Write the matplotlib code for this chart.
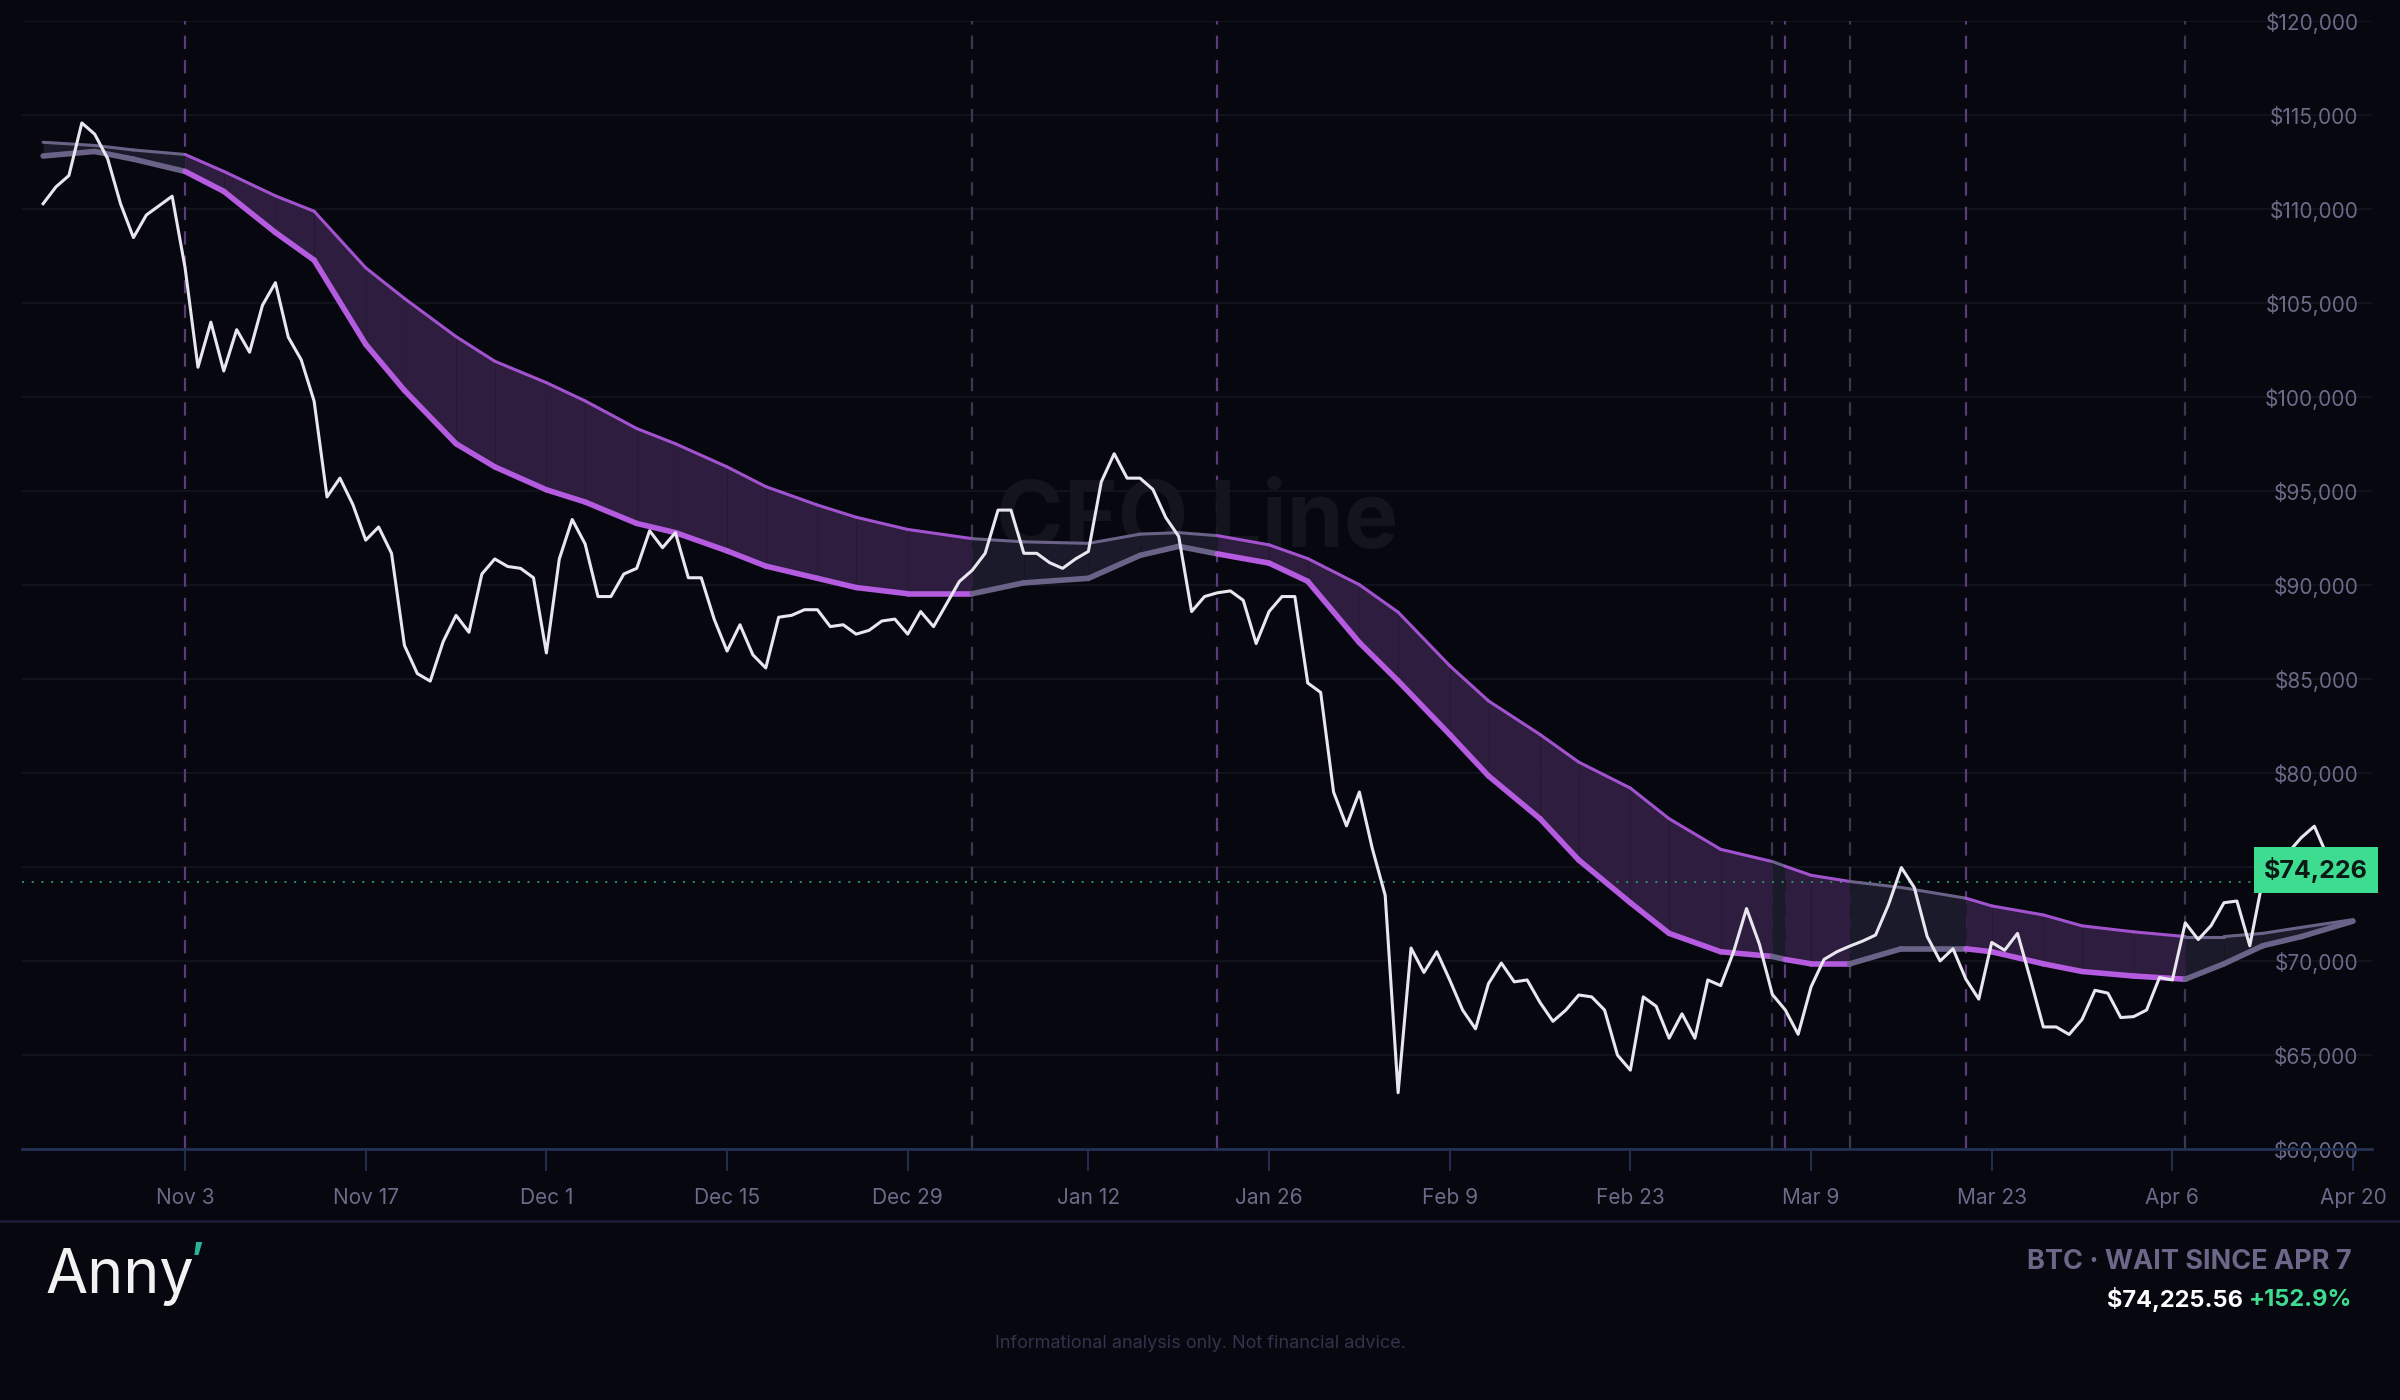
import pandas as pd
import numpy as np
import matplotlib
matplotlib.use("Agg")
import matplotlib.pyplot as plt
import matplotlib.dates as mdates

BG = "#06070f"
PURPLE = "#b45be0"
PURPLE_UP = "#a352cf"
GREY_LINE = "#6b6387"
FILL_PURPLE = "#2e1d3f"
FILL_GREY = "#1b1a2a"
TEXT_DIM = "#6c6a88"
GREEN = "#3ddc91"

# daily BTC close, Oct 23 -> Apr 20
price = [
    110300, 111200, 111800, 114600, 114000, 112700, 110300, 108500, 109700, 110200,
    110700, 106900, 101600, 104000, 101400, 103600, 102400, 104900, 106100, 103200,
    102000, 99800, 94700, 95700, 94300, 92400, 93100, 91700, 86800, 85300,
    84900, 87000, 88400, 87500, 90600, 91400, 91000, 90900, 90400, 86400,
    91400, 93500, 92200, 89400, 89400, 90600, 90900, 92900, 92000, 92800,
    90400, 90400, 88200, 86500, 87900, 86300, 85600, 88300, 88400, 88700,
    88700, 87800, 87900, 87400, 87600, 88100, 88200, 87400, 88600, 87800,
    89000, 90200, 90800, 91700, 94000, 94000, 91700, 91700, 91200, 90900,
    91400, 91800, 95500, 97000, 95700, 95700, 95100, 93600, 92600, 88600,
    89400, 89600, 89700, 89200, 86900, 88600, 89400, 89400, 84800, 84300,
    79000, 77200, 79000, 76000, 73500, 63000, 70700, 69400, 70500, 69000,
    67400, 66400, 68800, 69900, 68900, 69000, 67800, 66800, 67400, 68200,
    68100, 67400, 65000, 64200, 68100, 67600, 65900, 67200, 65900, 69000,
    68700, 70500, 72800, 70900, 68230, 67410, 66110, 68630, 70090, 70500,
    70800, 71070, 71390, 73000, 74980, 73920, 71310, 70010, 70660, 69040,
    67980, 71000, 70580, 71480, 69040, 66500, 66500, 66100, 66900, 68450,
    68300, 67000, 67050, 67400, 69130, 69000, 72040, 71150, 71890, 73110,
    73200, 70820, 74330, 75110, 75800, 76580, 77180, 75600, 73920, 74226,
]
price_dates = pd.date_range("2025-10-23", periods=len(price), freq="D")

band_dates = pd.to_datetime([
    "2025-10-23", "2025-10-27", "2025-10-30", "2025-11-03", "2025-11-06", "2025-11-10",
    "2025-11-13", "2025-11-17", "2025-11-20", "2025-11-24", "2025-11-27", "2025-12-01",
    "2025-12-04", "2025-12-08", "2025-12-11", "2025-12-15", "2025-12-18", "2025-12-22",
    "2025-12-25", "2025-12-29", "2026-01-03", "2026-01-07", "2026-01-12", "2026-01-16",
    "2026-01-19", "2026-01-22", "2026-01-26", "2026-01-29", "2026-02-02", "2026-02-05",
    "2026-02-09", "2026-02-12", "2026-02-16", "2026-02-19", "2026-02-23", "2026-02-26",
    "2026-03-02", "2026-03-06", "2026-03-07", "2026-03-09", "2026-03-12", "2026-03-16",
    "2026-03-21", "2026-03-23", "2026-03-27", "2026-03-30", "2026-04-03", "2026-04-07",
    "2026-04-10", "2026-04-13", "2026-04-16", "2026-04-20",
])
band_upper = [
    113570, 113400, 113160, 112920, 112020, 110720, 109900, 106890, 105260, 103230,
    101920, 100780, 99810, 98340, 97530, 96300, 95250, 94270, 93620, 92970,
    92480, 92310, 92230, 92720, 92800, 92640, 92150, 91420, 90030, 88570,
    85720, 83850, 82060, 80590, 79210, 77580, 75950, 75300, 75050, 74570,
    74240, 73920, 73350, 72940, 72460, 71880, 71560, 71310, 71310, 71480,
    71800, 72210,
]
band_lower = [
    112840, 113080, 112670, 112020, 110960, 108770, 107300, 102820, 100370, 97530,
    96300, 95080, 94430, 93290, 92800, 91830, 91020, 90370, 89880, 89550,
    89550, 90130, 90370, 91590, 92070, 91670, 91180, 90210, 86950, 84910,
    82060, 79860, 77580, 75380, 73110, 71480, 70500, 70250, 70090, 69860,
    69860, 70660, 70660, 70500, 69860, 69450, 69210, 69040, 69860, 70820,
    71310, 72130,
]

# bearish stretches (band drawn purple), the rest is neutral grey
purple_spans = [("2025-11-03", "2026-01-03"), ("2026-01-22", "2026-03-06"),
                ("2026-03-07", "2026-03-12"), ("2026-03-21", "2026-04-07")]
event_lines = [("2025-11-03", "p"), ("2026-01-03", "g"), ("2026-01-22", "p"),
               ("2026-03-06", "g"), ("2026-03-07", "p"), ("2026-03-12", "g"),
               ("2026-03-21", "p"), ("2026-04-07", "g")]

current_price = 74226
y_ticks = list(range(60000, 120001, 5000))
x_ticks = pd.date_range("2025-11-03", "2026-04-20", freq="14D")


def is_purple(d):
    return any(pd.Timestamp(a) <= d <= pd.Timestamp(b) for a, b in purple_spans)


fig = plt.figure(figsize=(24, 14), dpi=100, facecolor=BG)
plt.rcParams["font.family"] = ["Inter", "DejaVu Sans"]
ax = fig.add_axes([0.009, 0.1792, 0.9795, 0.8055], facecolor=BG)

for t in y_ticks:
    ax.axhline(t, color="#10121c", lw=1.5, zorder=0)

for d, kind in event_lines:
    ax.axvline(pd.Timestamp(d), color="#5b3a78" if kind == "p" else "#3a3850",
               lw=1.6, ls=(0, (6, 5)), zorder=1)

for i in range(len(band_dates) - 1):
    mid = band_dates[i] + (band_dates[i + 1] - band_dates[i]) / 2
    purp = is_purple(mid)
    xs = band_dates[i:i + 2]
    ax.fill_between(xs, band_lower[i:i + 2], band_upper[i:i + 2],
                    color=FILL_PURPLE if purp else FILL_GREY, lw=0, zorder=2)
    ax.plot(xs, band_upper[i:i + 2], color=PURPLE_UP if purp else GREY_LINE,
            lw=2.2, solid_capstyle="round", zorder=3)
    ax.plot(xs, band_lower[i:i + 2], color=PURPLE if purp else GREY_LINE,
            lw=4.0, solid_capstyle="round", zorder=3)

ax.plot(price_dates, price, color="#e8e6ee", lw=2.2, zorder=4)

ax.axhline(current_price, color="#2f8f66", lw=1.4, ls=(0, (1, 4)), zorder=2)
ax.annotate(f"${current_price:,}", xy=(0.998, current_price + 600),
            xycoords=("axes fraction", "data"), ha="right", va="center",
            fontsize=18, fontweight="bold", color="#0b1a14", zorder=6,
            bbox=dict(boxstyle="square,pad=0.4", fc=GREEN, ec="none"))

ax.text(0.5, 0.555, "CFO Line", transform=ax.transAxes, ha="center", va="center",
        fontsize=66, fontweight="bold", color="#14141e", zorder=1)

ax.set_xlim(pd.Timestamp("2025-10-21 08:00"), pd.Timestamp("2026-04-21 12:00"))
ax.set_ylim(60000, 120000)
ax.set_yticks(y_ticks)
# the $75,000 label sits under the price tag
ax.set_yticklabels(["" if v == 75000 else f"${v:,}" for v in y_ticks])
ax.yaxis.set_ticks_position("right")
ax.tick_params(axis="y", length=0, pad=-10, labelsize=15, colors=TEXT_DIM)
for lbl in ax.get_yticklabels():
    lbl.set_ha("right")
ax.set_xticks(x_ticks)
ax.xaxis.set_major_formatter(mdates.DateFormatter("%b %-d"))
ax.tick_params(axis="x", length=16, width=1.3, color="#253056", pad=12,
               labelsize=15, labelcolor=TEXT_DIM)
for side in ["top", "right", "left"]:
    ax.spines[side].set_visible(False)
ax.spines["bottom"].set_color("#253056")
ax.spines["bottom"].set_linewidth(2)

# footer
fig.add_artist(plt.Line2D([0, 1], [0.128, 0.128], color="#1c1b33", lw=2))
logo = fig.text(0.019, 0.088, "Anny", fontsize=44, color="#f2f2f2",
                fontweight="normal", va="center", ha="left")
fig.canvas.draw()
lb = logo.get_window_extent()
fig.text(lb.x1 - 4, lb.y1 - 14, "’", fontsize=30, color="#2bb39a",
         fontweight="bold", va="center", ha="left", transform=None)
fig.text(0.98, 0.0985, "BTC · WAIT SINCE APR 7", fontsize=19.5, fontweight="bold",
         color="#6c6788", ha="right", va="center")
pct = fig.text(0.98, 0.0715, "+152.9%", fontsize=17, fontweight="bold",
               color=GREEN, ha="right", va="center")
fig.canvas.draw()
bb = pct.get_window_extent()
fig.text(bb.x0 - 6, bb.y0 + bb.height / 2, "$74,225.56", fontsize=17,
         fontweight="bold", color="white", ha="right", va="center",
         transform=None)
fig.text(0.5, 0.040, "Informational analysis only. Not financial advice.",
         fontsize=13, color="#34324c", ha="center", va="center")

fig.savefig("out.png", dpi=100, facecolor=BG)
